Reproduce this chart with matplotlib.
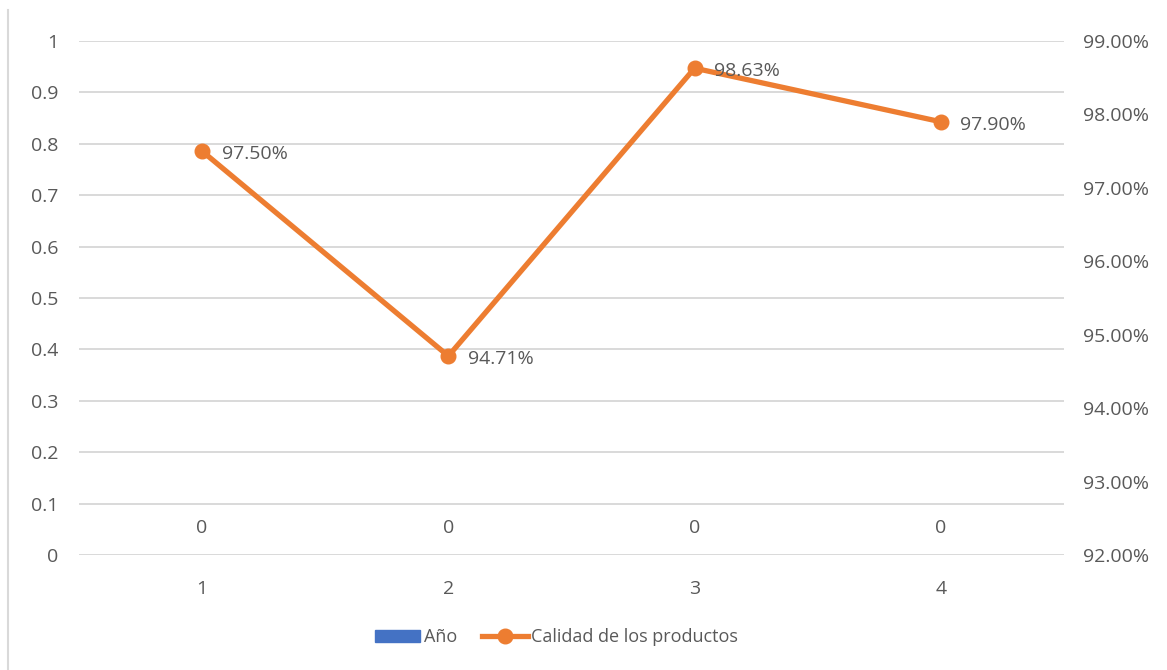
import matplotlib.pyplot as plt
import matplotlib.lines as mlines
import matplotlib.patches as mpatches
from matplotlib.ticker import FuncFormatter

plt.rcParams['font.family'] = ['Open Sans', 'DejaVu Sans']

# datos
periodos = [1, 2, 3, 4]
anio = [0, 0, 0, 0]
calidad = [97.50, 94.71, 98.63, 97.90]  # porcentaje

gris = '#595959'
naranja = '#ED7D31'
azul = '#4472C4'
fs = 13     # leyenda
fn = 14     # numeros

fig = plt.figure(figsize=(11.67, 6.70), dpi=100)
ax = fig.add_axes([0.0677, 0.1716, 0.8440, 0.7672])
ax2 = ax.twinx()

# barras (todas en cero) con su etiqueta
barras = ax.bar(periodos, anio, width=0.5, color=azul, zorder=2)
ax.bar_label(barras, labels=[str(v) for v in anio], padding=13, fontsize=fn, color=gris)

ax.set_xlim(0.5, 4.5)
ax.set_ylim(0, 1)
ax.set_yticks([i / 10 for i in range(11)])
ax.yaxis.set_major_formatter(FuncFormatter(lambda v, p: '0' if v == 0 else ('1' if v == 1 else f'{v:.1f}')))
ax.set_xticks(periodos)
ax.grid(axis='y', color='#D9D9D9', linewidth=1.4, zorder=0)
ax.set_axisbelow(True)
ax.tick_params(axis='y', length=0, pad=15, labelsize=fn, labelcolor=gris)
ax.tick_params(axis='x', length=0, pad=18, labelsize=fn, labelcolor=gris)

# linea de calidad en eje secundario
ax2.plot(periodos, calidad, color=naranja, linewidth=3.8, marker='o', markersize=10.5,
         solid_capstyle='round', zorder=3)
for x, y in zip(periodos, calidad):
    ax2.annotate(f'{y:.2f}%', (x, y), xytext=(14, -2), textcoords='offset points',
                 ha='left', va='center', fontsize=fn, color=gris)
ax2.set_ylim(92, 99)
ax2.set_yticks(range(92, 100))
ax2.yaxis.set_major_formatter(FuncFormatter(lambda v, p: f'{v:.2f}%'))
ax2.tick_params(axis='y', length=0, pad=14, labelsize=fn, labelcolor=gris)

for a in (ax, ax2):
    for s in a.spines.values():
        s.set_visible(False)

# borde izquierdo del area del grafico
fig.add_artist(mlines.Line2D([0.0069, 0.0069], [0.0, 0.985], color='#D9D9D9', linewidth=1.5))

h1 = mpatches.Patch(color=azul, label='Año')
h2 = mlines.Line2D([], [], color=naranja, linewidth=3.8, marker='o', markersize=10.5,
                   label='Calidad de los productos')
fig.legend(handles=[h1, h2], loc='center', bbox_to_anchor=(0.477, 0.049), ncol=2,
           frameon=False, fontsize=fs, labelcolor=gris, handlelength=2.5,
           handletextpad=0.2, columnspacing=1.4)

fig.savefig('out.png', dpi=100)
